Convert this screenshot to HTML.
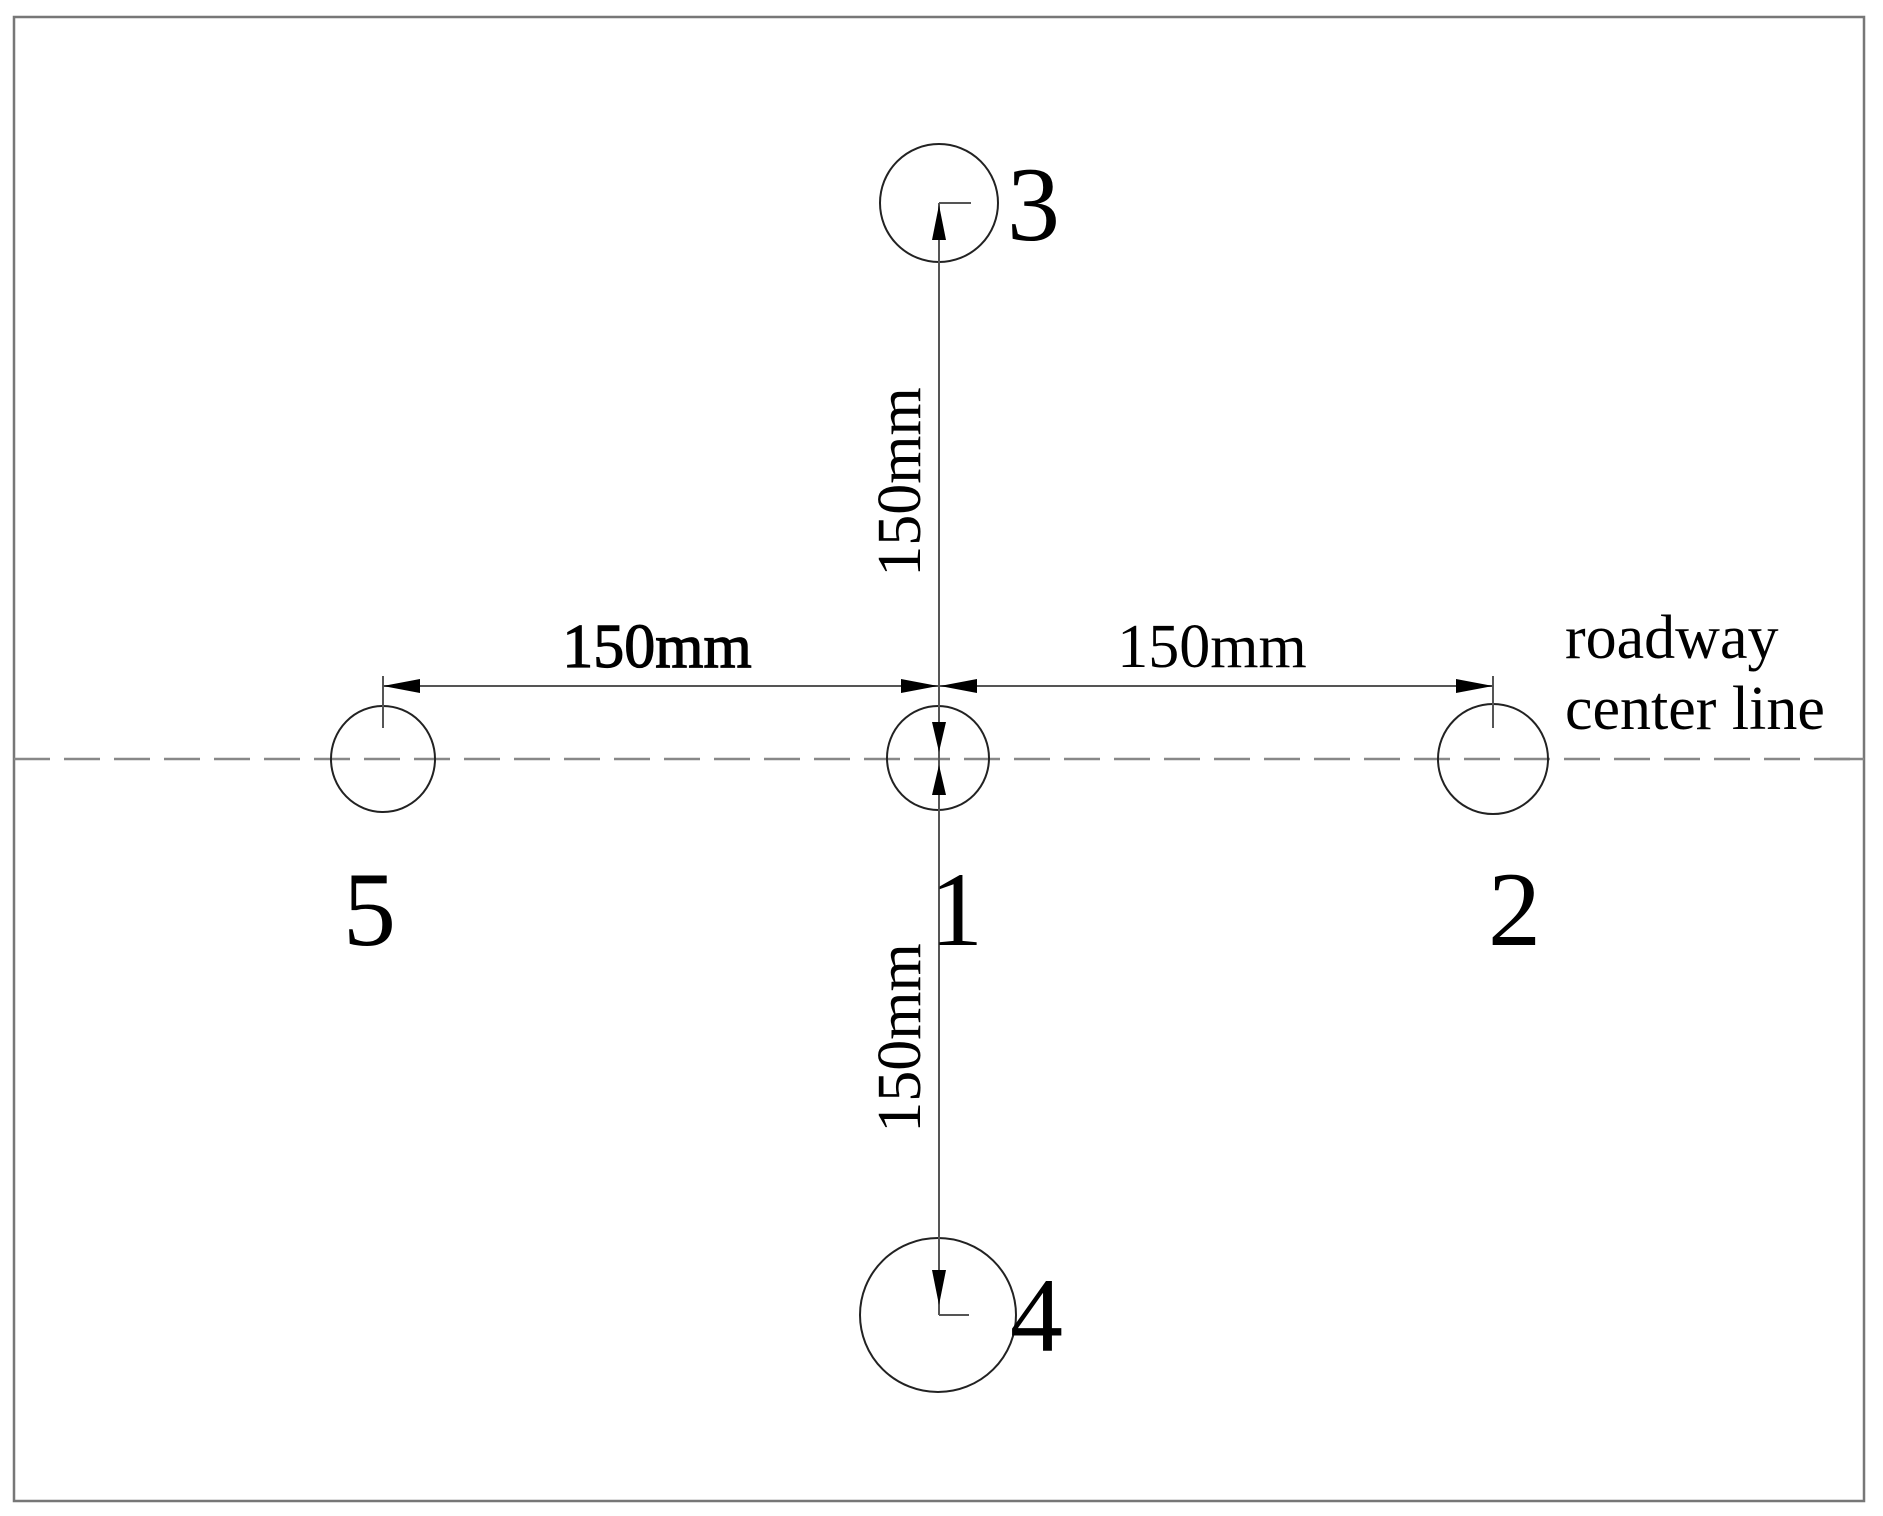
<!DOCTYPE html>
<html><head><meta charset="utf-8"><style>
html,body{margin:0;padding:0;background:#fff}
svg{display:block}
text{font-family:"Liberation Serif",serif;fill:#000}
</style></head><body>
<svg width="1883" height="1516" viewBox="0 0 1883 1516" xmlns="http://www.w3.org/2000/svg">
<rect x="14" y="17" width="1850" height="1484" fill="#fff" stroke="#777" stroke-width="2.5"/>
<line x1="14" y1="759" x2="1864" y2="759" stroke="#888" stroke-width="2.5" stroke-dasharray="36,14"/>
<line x1="1830" y1="759" x2="1864" y2="759" stroke="#888" stroke-width="2.5"/>
<g fill="none" stroke="#222" stroke-width="2">
<ellipse cx="383" cy="759" rx="52" ry="53"/>
<ellipse cx="938" cy="758" rx="51" ry="52"/>
<ellipse cx="1493" cy="759" rx="55" ry="55"/>
<ellipse cx="939" cy="203" rx="59" ry="59"/>
<ellipse cx="938" cy="1315" rx="78" ry="77"/>
</g>
<g stroke="#555" stroke-width="2">
<line x1="939" y1="203" x2="939" y2="1315"/>
<line x1="383" y1="686" x2="1493" y2="686"/>
<line x1="383" y1="676" x2="383" y2="728"/>
<line x1="1493" y1="676" x2="1493" y2="728"/>
<line x1="939" y1="203" x2="971" y2="203"/>
<line x1="939" y1="1315" x2="969" y2="1315"/>
</g>
<g fill="#000">
<polygon points="383,686 420,679 420,693"/>
<polygon points="938,686 901,679 901,693"/>
<polygon points="940,686 977,679 977,693"/>
<polygon points="1493,686 1456,679 1456,693"/>
<polygon points="939,205 932,240 946,240"/>
<polygon points="939,1305 932,1270 946,1270"/>
<polygon points="939,752 932,722 946,722"/>
<polygon points="939,765 932,795 946,795"/>
</g>
<text x="657" y="667" font-size="62" text-anchor="middle" stroke="#000" stroke-width="1.2">150mm</text>
<text x="1212" y="667" font-size="62" text-anchor="middle">150mm</text>
<text transform="translate(920,482) rotate(-90)" font-size="62" text-anchor="middle">150mm</text>
<text transform="translate(920,1038) rotate(-90)" font-size="62" text-anchor="middle">150mm</text>
<text x="1007" y="240" font-size="106">3</text>
<text x="343" y="945" font-size="106">5</text>
<text x="930" y="945" font-size="106">1</text>
<text x="1488" y="945" font-size="106">2</text>
<text x="1010" y="1351" font-size="106">4</text>
<text x="1565" y="658" font-size="62">roadway</text>
<text x="1565" y="729" font-size="62">center line</text>
</svg>
</body></html>
